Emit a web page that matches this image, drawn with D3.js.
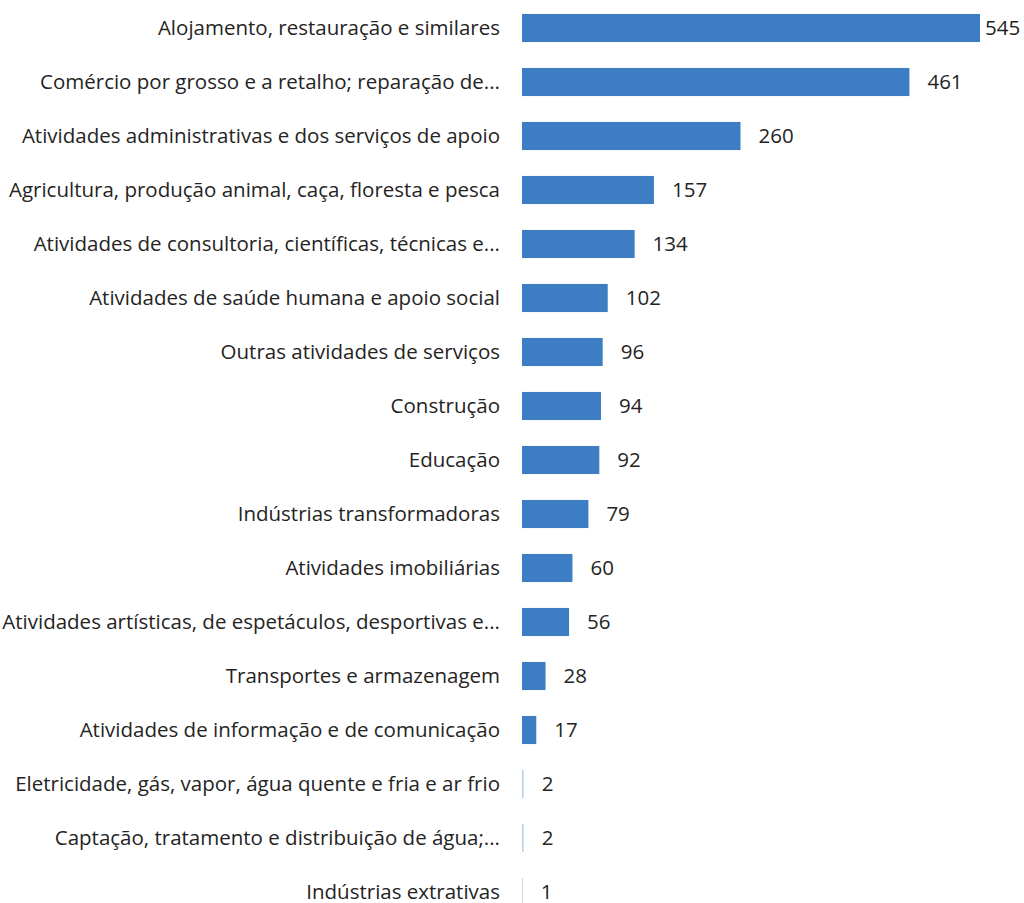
<!DOCTYPE html>
<html>
<head>
<meta charset="utf-8">
<script src="https://cdn.jsdelivr.net/npm/d3@7"></script>
<style>
  html, body { margin: 0; padding: 0; background: #ffffff; }
  svg text { font-family: "Open Sans", "Noto Sans", sans-serif; }
</style>
</head>
<body>
<svg id="chart" width="1024" height="903"></svg>
<script>
// Empresas por setor de atividade
const categories = [
  "Alojamento, restauração e similares",
  "Comércio por grosso e a retalho; reparação de...",
  "Atividades administrativas e dos serviços de apoio",
  "Agricultura, produção animal, caça, floresta e pesca",
  "Atividades de consultoria, científicas, técnicas e...",
  "Atividades de saúde humana e apoio social",
  "Outras atividades de serviços",
  "Construção",
  "Educação",
  "Indústrias transformadoras",
  "Atividades imobiliárias",
  "Atividades artísticas, de espetáculos, desportivas e...",
  "Transportes e armazenagem",
  "Atividades de informação e de comunicação",
  "Eletricidade, gás, vapor, água quente e fria e ar frio",
  "Captação, tratamento e distribuição de água;...",
  "Indústrias extrativas"
];
const values = [545, 461, 260, 157, 134, 102, 96, 94, 92, 79, 60, 56, 28, 17, 2, 2, 1];

const svg = d3.select("#chart");
const x0 = 522;          // left edge of the bars
const labelRight = 500;  // right edge of the category labels
const fontSize = 20.5;

const x = d3.scaleLinear().domain([0, 545]).range([x0, 980]);
const y = d3.scaleBand()
  .domain(categories)
  .range([1, 1 + 54 * categories.length])
  .paddingInner(0.48)
  .paddingOuter(0.24);

const data = categories.map((c, i) => ({ cat: c, val: values[i] }));
const barColor = "#3c7dc4";

// bars
svg.append("g").selectAll("rect")
  .data(data)
  .enter().append("rect")
  .attr("x", x0)
  .attr("y", d => y(d.cat))
  .attr("width", d => Math.max(0, x(d.val) - x0))
  .attr("height", y.bandwidth())
  .attr("fill", barColor)
  .attr("fill-opacity", d => (x(d.val) - x0) < 2 ? 0.35 : 1);

// category labels
svg.append("g").selectAll("text")
  .data(data)
  .enter().append("text")
  .attr("x", labelRight)
  .attr("y", d => y(d.cat) + y.bandwidth() / 2)
  .attr("dy", "0.35em")
  .attr("text-anchor", "end")
  .attr("font-size", fontSize)
  .attr("fill", "#252423")
  .text(d => d.cat);

// value labels, kept inside the canvas
svg.append("g").selectAll("text")
  .data(data)
  .enter().append("text")
  .attr("x", d => Math.min(x(d.val) + 18, 985))
  .attr("y", d => y(d.cat) + y.bandwidth() / 2)
  .attr("dy", "0.35em")
  .attr("text-anchor", "start")
  .attr("font-size", fontSize)
  .attr("fill", "#252423")
  .text(d => d.val);
</script>
</body>
</html>
